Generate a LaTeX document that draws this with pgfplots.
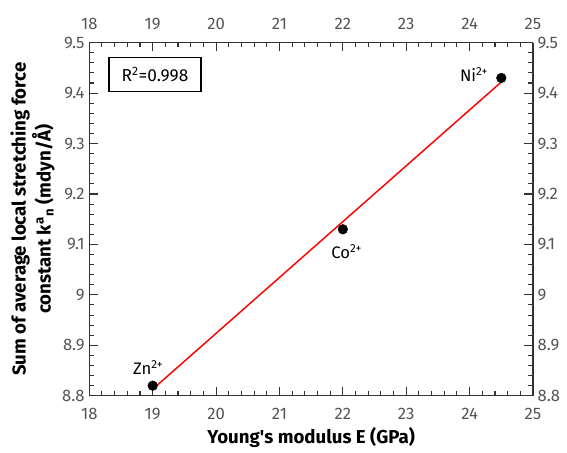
\documentclass[border=0pt]{standalone}
\usepackage{pgfplots}
\pgfplotsset{compat=1.18}
\usepackage{fontspec}
\setmainfont{Fira Sans}
\definecolor{ticklab}{RGB}{85,85,85}
\begin{document}
\begin{tikzpicture}
\pgfplotsset{
  every axis/.append style={
    scale only axis, width=333pt, height=265pt,
    xmin=18, xmax=25, ymin=8.8, ymax=9.5,
    xtick={18,...,25}, ytick={8.8,8.9,...,9.5},
    minor x tick num=4, minor y tick num=4,
    tick align=inside,
    major tick length=6.5pt, minor tick length=3.5pt,
    axis line style={line width=1pt, black!80},
    every tick/.style={line width=0.8pt, black!80},
    tick label style={font=\fontsize{12.5}{14}\selectfont, text=ticklab},
    /pgf/number format/assume math mode=true,
    /pgf/number format/fixed,
  },
}
\begin{axis}[
  axis x line*=top, axis y line*=right,
  xticklabel pos=right, yticklabel pos=right,
  xticklabel shift=6pt,
]
\addplot[draw=none] coordinates {(18,8.8)};
\end{axis}
\begin{axis}[
  axis x line*=bottom, axis y line*=left,
  clip=false,
  xticklabel shift=6pt,
  xlabel={\bfseries Young\textquotesingle s modulus E (GPa)},
  ylabel={\bfseries\begin{tabular}{c}Sum of average local stretching force\\constant k\textsuperscript{a}\textsubscript{n} (mdyn/Å)\end{tabular}},
  label style={font=\fontsize{14}{16}\selectfont},
  ylabel style={yshift=-3pt},
  xlabel style={yshift=1pt},
]
\addplot[red, line width=1.1pt] coordinates {(19,8.813) (24.5,9.422)};
\addplot[only marks, mark=*, mark size=3.6pt, black] coordinates {
  (19,8.82) (22,9.13) (24.5,9.43)};
\node[font=\fontsize{12.5}{14}\selectfont] at (axis cs:18.93,8.856) {Zn\textsuperscript{2+}};
\node[font=\fontsize{12.5}{14}\selectfont] at (axis cs:22.06,9.085) {Co\textsuperscript{2+}};
\node[font=\fontsize{12.5}{14}\selectfont] at (axis cs:24.07,9.437) {Ni\textsuperscript{2+}};
\node[draw, line width=0.9pt, inner xsep=9.5pt, inner ysep=7.5pt, font=\fontsize{13}{14}\selectfont]
  at (rel axis cs:0.148,0.91) {R\textsuperscript{2}=0.998};
\path (rel axis cs:0,1) ++(-67pt,32pt) (rel axis cs:1,0) ++(25.5pt,-42pt);
\end{axis}
\end{tikzpicture}
\end{document}
